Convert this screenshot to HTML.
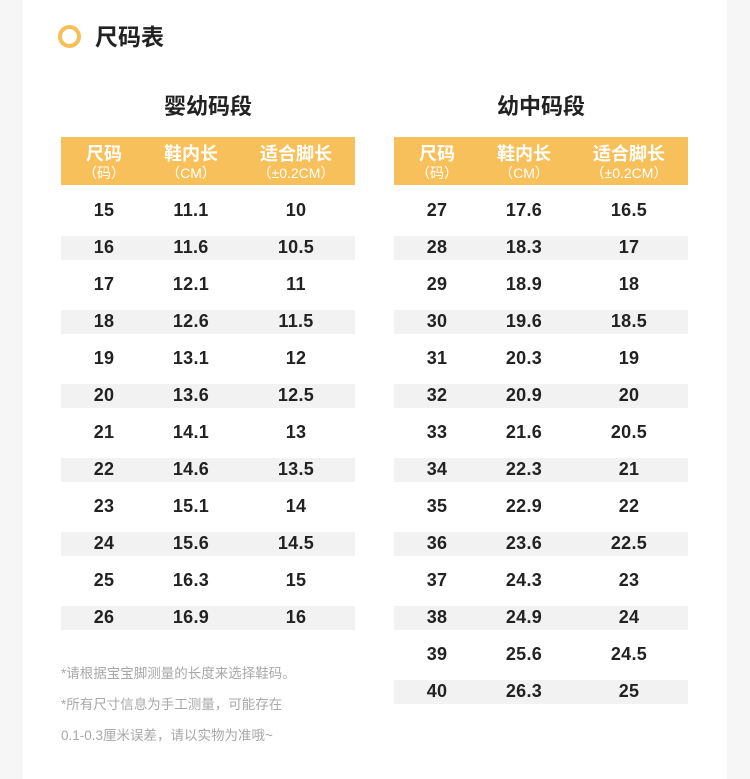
<!DOCTYPE html>
<html><head><meta charset="utf-8"><style>
body{margin:0;width:750px;height:779px;background:#f6f6f6;font-family:"Liberation Sans","Noto Sans CJK SC",sans-serif;position:relative;overflow:hidden}
.card{position:absolute;left:23px;top:0;width:704px;height:779px;background:#fff}
.abs{position:absolute}
.circ{left:58px;top:25px;width:15px;height:15px;border:4px solid #f7bf56;border-radius:50%}
.h{left:95px;top:18px;font-size:23px;font-weight:bold;color:#222}
.t{font-size:22px;font-weight:bold;color:#222;width:294px;text-align:center;top:89px}
.hd{top:137px;height:48px;width:294px;background:#f8c05a;color:#fff}
.hd div{position:absolute;text-align:center;width:120px}
.hd .a{top:3px;font-size:18px;font-weight:bold}
.hd .b{top:26px;font-size:14px}
.row{height:24px;width:294px}
.row.s{background:#f2f2f2}
.row span{position:absolute;width:100px;text-align:center;top:1px;font-size:18px;font-weight:bold;color:#222;letter-spacing:0.3px}
.note{left:61px;font-size:13.5px;color:#a8a8a8}
</style></head><body>
<div class="card"></div>
<div class="abs circ"></div>
<div class="abs h">尺码表</div>
<div class="abs t" style="left:61px">婴幼码段</div>
<div class="abs t" style="left:394px">幼中码段</div>
<div id="L"></div><div id="R"></div>
<div class="abs note" style="top:662px">*请根据宝宝脚测量的长度来选择鞋码。</div>
<div class="abs note" style="top:693px">*所有尺寸信息为手工测量，可能存在</div>
<div class="abs note" style="top:724px">0.1-0.3厘米误差，请以实物为准哦~</div>
<script>
function tbl(x,data){
 var h='<div class="abs hd" style="left:'+x+'px">';
 var cx=[43,130,235],a=['尺码','鞋内长','适合脚长'],b=['（码）','（CM）','（±0.2CM）'];
 for(var i=0;i<3;i++)h+='<div class="a" style="left:'+(cx[i]-60)+'px">'+a[i]+'</div><div class="b" style="left:'+(cx[i]-60)+'px">'+b[i]+'</div>';
 h+='</div>';
 data.forEach(function(r,k){
  var y=199+k*37;
  h+='<div class="abs row'+(k%2?' s':'')+'" style="left:'+x+'px;top:'+y+'px">';
  for(var i=0;i<3;i++)h+='<span style="left:'+(cx[i]-50)+'px">'+r[i]+'</span>';
  h+='</div>';
 });
 return h;
}
var L=[[15,'11.1',10],[16,'11.6','10.5'],[17,'12.1',11],[18,'12.6','11.5'],[19,'13.1',12],[20,'13.6','12.5'],[21,'14.1',13],[22,'14.6','13.5'],[23,'15.1',14],[24,'15.6','14.5'],[25,'16.3',15],[26,'16.9',16]];
var R=[[27,'17.6','16.5'],[28,'18.3',17],[29,'18.9',18],[30,'19.6','18.5'],[31,'20.3',19],[32,'20.9',20],[33,'21.6','20.5'],[34,'22.3',21],[35,'22.9',22],[36,'23.6','22.5'],[37,'24.3',23],[38,'24.9',24],[39,'25.6','24.5'],[40,'26.3',25]];
document.getElementById('L').innerHTML=tbl(61,L);
document.getElementById('R').innerHTML=tbl(394,R);
</script>
</body></html>
